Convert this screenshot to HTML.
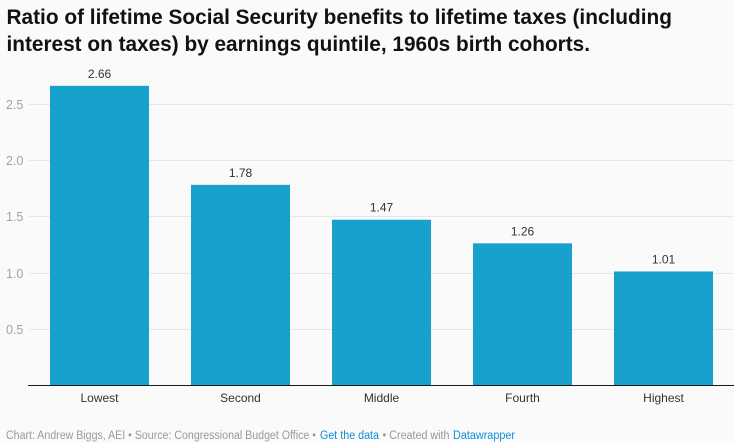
<!DOCTYPE html>
<html lang="en">
<head>
<meta charset="utf-8">
<title>Ratio of lifetime Social Security benefits to lifetime taxes</title>
<style>
html,body{margin:0;padding:0;background:#fafafa;}
body{width:734px;height:443px;overflow:hidden;}
svg{display:block;font-family:"Liberation Sans",sans-serif;}
</style>
</head>
<body>
<svg id="chart" width="734" height="443" viewBox="0 0 734 443" xmlns="http://www.w3.org/2000/svg">
  <rect x="0" y="0" width="734" height="443" fill="#fafafa"/>
  <g font-size="21.5" font-weight="700" fill="#111">
    <text x="6.5" y="24" textLength="665.5" lengthAdjust="spacingAndGlyphs">Ratio of lifetime Social Security benefits to lifetime taxes (including</text>
    <text x="6.5" y="51" textLength="583.5" lengthAdjust="spacingAndGlyphs">interest on taxes) by earnings quintile, 1960s birth cohorts.</text>
  </g>
  <g id="grid"></g>
  <g id="bars"></g>
  <g id="labels"></g>
  <line x1="28" x2="734" y1="385.5" y2="385.5" stroke="#1a1a1a" stroke-width="1"/>
  <g font-size="11.5" fill="#999">
    <text x="6" y="439" textLength="310" lengthAdjust="spacingAndGlyphs">Chart: Andrew Biggs, AEI • Source: Congressional Budget Office •</text>
    <text x="320" y="439" textLength="59" lengthAdjust="spacingAndGlyphs" fill="#0f8fd6">Get the data</text>
    <text x="382.5" y="439" textLength="67" lengthAdjust="spacingAndGlyphs">• Created with</text>
    <text x="453" y="439" textLength="62" lengthAdjust="spacingAndGlyphs" fill="#0f8fd6">Datawrapper</text>
  </g>
</svg>
<script>
const categories = ["Lowest", "Second", "Middle", "Fourth", "Highest"];
const values = [2.66, 1.78, 1.47, 1.26, 1.01];
const valueLabels = ["2.66", "1.78", "1.47", "1.26", "1.01"];
const yTicks = [0.5, 1.0, 1.5, 2.0, 2.5];
const yTickLabels = ["0.5", "1.0", "1.5", "2.0", "2.5"];

const NS = "http://www.w3.org/2000/svg";
const y = function (v) { return 385.1 - v * 112.5; };
const x = function (i) { return 50 + i * 141; };
const barWidth = 99;

function make(tag, attrs, parent, text) {
  const el = document.createElementNS(NS, tag);
  for (const k in attrs) el.setAttribute(k, attrs[k]);
  if (text !== undefined) el.textContent = text;
  parent.appendChild(el);
  return el;
}

const grid = document.getElementById("grid");
const bars = document.getElementById("bars");
const labels = document.getElementById("labels");

yTicks.forEach(function (t, i) {
  const py = Math.round(y(t)) + 0.5;
  const line = make("line", { x1: 29, x2: 734, y1: py, y2: py, stroke: "#e6e6e6", "stroke-width": 1 }, grid);
  
  
  const tick = make("text", { x: 6, y: py + 4.5, "font-size": 12.5, fill: "#a3a3a3" }, grid, yTickLabels[i]);
  
  
});

categories.forEach(function (c, i) {
  const top = y(values[i]);
  const bar = make("rect", { x: x(i), y: top, width: barWidth, height: 385 - top, fill: "#18a1cd" }, bars);
  
  
  const value = make("text", { x: x(i) + barWidth / 2, y: top - 8, "font-size": 12, fill: "#333", "text-anchor": "middle" }, labels, valueLabels[i]);
  
  
  const cat = make("text", { x: x(i) + barWidth / 2, y: 402, "font-size": 12, fill: "#333", "text-anchor": "middle" }, labels, c);
  
  
});
</script>
</body>
</html>
